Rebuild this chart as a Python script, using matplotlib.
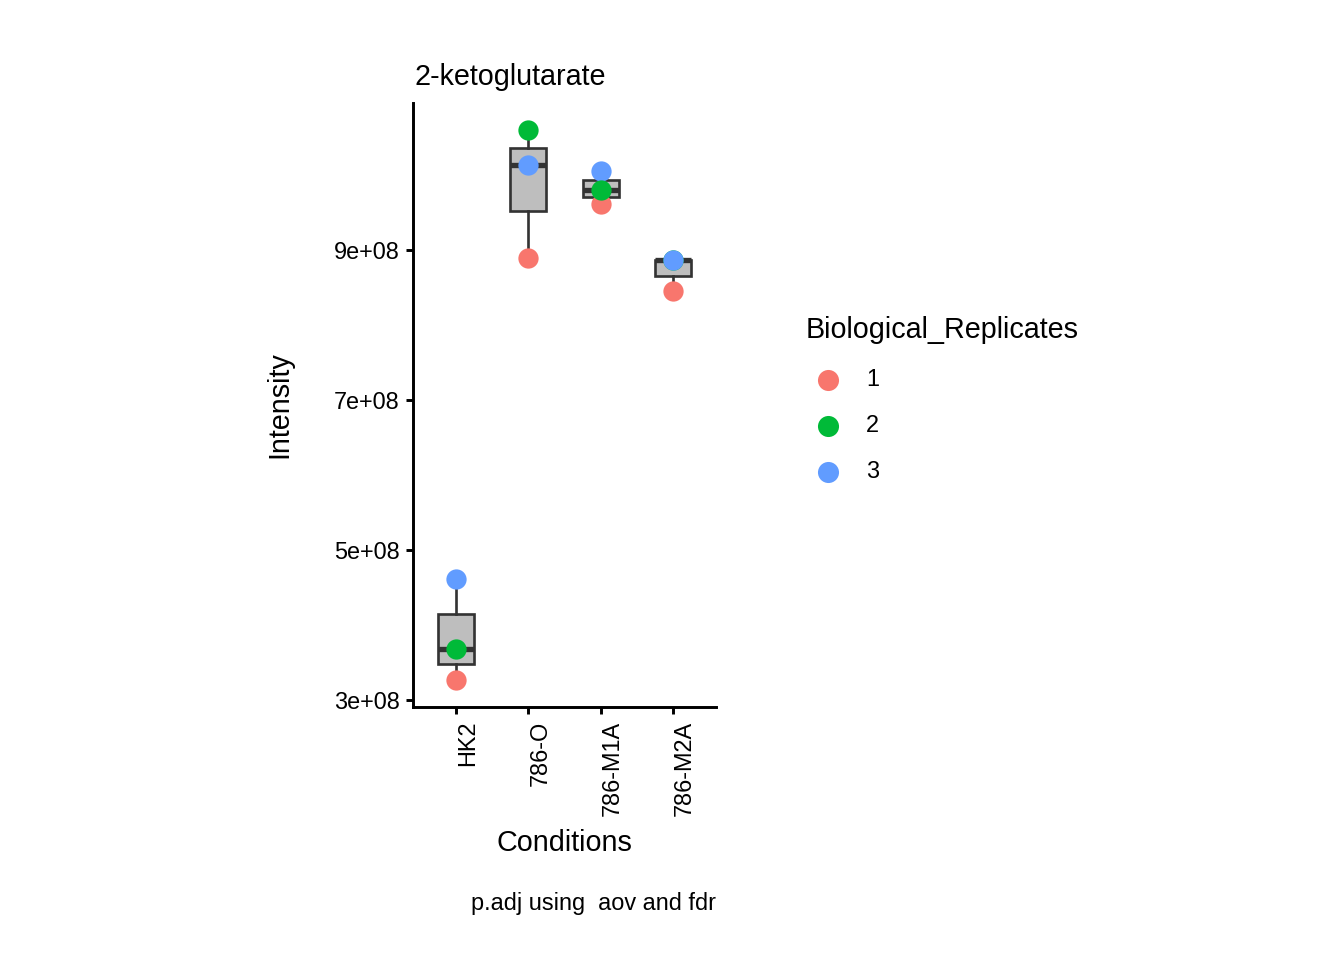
import matplotlib
matplotlib.use("Agg")
import matplotlib.pyplot as plt
import numpy as np

plt.rcParams['font.family'] = ['Liberation Sans', 'DejaVu Sans']

conditions = ["HK2", "786-O", "786-M1A", "786-M2A"]
replicates = ["1", "2", "3"]
rep_colors = {"1": "#F8766D", "2": "#00BA38", "3": "#619CFF"}

# one row per sample (drawing order as in the source)
row_condition = ["HK2", "HK2", "HK2",
                 "786-O", "786-O", "786-O",
                 "786-M1A", "786-M1A", "786-M1A",
                 "786-M2A", "786-M2A", "786-M2A"]
row_replicate = ["1", "2", "3",
                 "1", "2", "3",
                 "1", "3", "2",
                 "1", "2", "3"]
row_intensity = [3.267e8, 3.676e8, 4.609e8,
                 8.897e8, 1.0600e9, 1.0143e9,
                 9.613e8, 1.0057e9, 9.809e8,
                 8.457e8, 8.876e8, 8.867e8]

ytick_values = [3e8, 5e8, 7e8, 9e8]
ytick_labels = ["3e+08", "5e+08", "7e+08", "9e+08"]

W, H = 1344, 960
fig = plt.figure(figsize=(7, 5), dpi=192)
ax = fig.add_axes([413 / W, 1 - 707 / H, (716 - 413) / W, (707 - 103) / H])

pos = {c: i + 1 for i, c in enumerate(conditions)}
vals = np.array(row_intensity)
conds = np.array(row_condition)

data = [vals[conds == c] for c in conditions]
ax.boxplot(data, positions=[pos[c] for c in conditions], widths=0.5,
           patch_artist=True, whis=(0, 100), showfliers=False,
           boxprops=dict(facecolor="#BEBEBE", edgecolor="#333333", linewidth=1.0),
           medianprops=dict(color="#333333", linewidth=2.0),
           whiskerprops=dict(color="#333333", linewidth=1.0),
           capprops=dict(linewidth=0), zorder=2)

for c, r, v in zip(row_condition, row_replicate, row_intensity):
    ax.scatter([pos[c]], [v], s=7.6 ** 2, color=rep_colors[r], linewidths=0, zorder=3)

ymin, ymax = vals.min(), vals.max()
rng = ymax - ymin
ax.set_ylim(ymin - 0.05 * rng, ymax + 0.05 * rng)
ax.set_xlim(0.4, len(conditions) + 0.6)

ax.set_yticks(ytick_values)
ax.set_yticklabels(ytick_labels, fontsize=8.8, color="black")
ax.set_xticks([pos[c] for c in conditions])
ax.set_xticklabels(conditions, fontsize=8.8, rotation=90, ha="left", va="top", color="black")

for s in ["top", "right"]:
    ax.spines[s].set_visible(False)
for s in ["left", "bottom"]:
    ax.spines[s].set_linewidth(1.1)
    ax.spines[s].set_color("black")
ax.tick_params(axis="both", length=2.6, width=1.1, color="black")
ax.tick_params(axis="y", pad=2.4)
ax.tick_params(axis="x", pad=2.6)
ax.set_facecolor("white")

fig.text(415 / W, 1 - 85 / H, "2-ketoglutarate", fontsize=10.8, ha="left", va="baseline")
fig.text(287 / W, 1 - 405 / H, "Intensity", fontsize=10.8, rotation=90, ha="center", va="baseline",
         rotation_mode="anchor")
fig.text(564.5 / W, 1 - 851 / H, "Conditions", fontsize=10.8, ha="center", va="baseline")
fig.text(716 / W, 1 - 910 / H, "p.adj using  aov and fdr", fontsize=8.8, ha="right", va="baseline")

# legend
fig.text(806 / W, 1 - 330 / H, "Biological_Replicates", fontsize=10.8, ha="left", va="center")
leg_y = [380, 426, 472]
for r, yy in zip(replicates, leg_y):
    fig.add_artist(plt.Line2D([828 / W], [1 - yy / H], marker="o", markersize=7.9,
                              color=rep_colors[r], markeredgewidth=0, linestyle="none",
                              transform=fig.transFigure))
    fig.text(866 / W, 1 - yy / H, r, fontsize=8.8, ha="left", va="center")

fig.savefig("out.png", dpi=192, facecolor="white")
